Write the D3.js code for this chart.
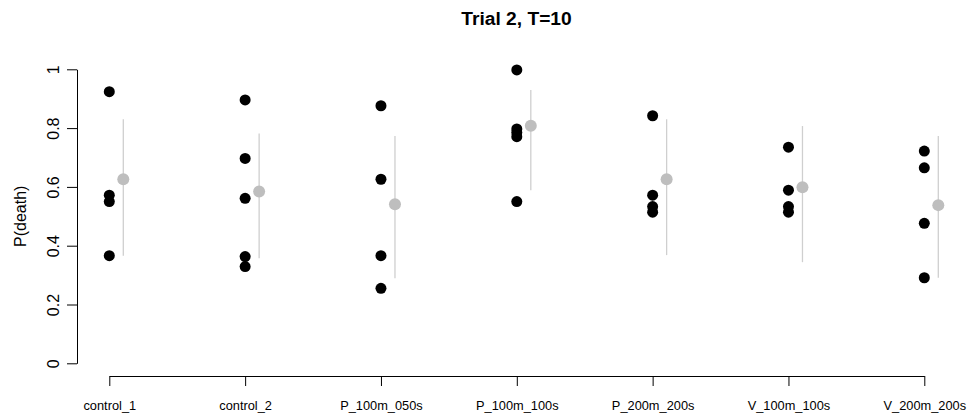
<!DOCTYPE html>
<html>
<head>
<meta charset="utf-8">
<script src="https://cdn.jsdelivr.net/npm/d3@7/dist/d3.min.js"></script>
<style>
  body { margin: 0; background: #fff; }
  svg { display: block; font-family: "Liberation Sans", Arial, sans-serif; }
</style>
</head>
<body>
<svg id="chart" width="970" height="419"></svg>
<script>
// ---- data ----
const categories = ["control_1", "control_2", "P_100m_050s", "P_100m_100s", "P_200m_200s", "V_100m_100s", "V_200m_200s"];
const observed = [
  [0.924, 0.572, 0.55, 0.366],
  [0.896, 0.697, 0.561, 0.363, 0.329],
  [0.876, 0.626, 0.366, 0.255],
  [0.998, 0.797, 0.785, 0.771, 0.55],
  [0.842, 0.572, 0.533, 0.514],
  [0.735, 0.589, 0.533, 0.514],
  [0.722, 0.665, 0.476, 0.291]
];
const estimate = [0.626, 0.584, 0.541, 0.808, 0.626, 0.599, 0.538];
const lower = [0.366, 0.357, 0.289, 0.589, 0.368, 0.344, 0.291];
const upper = [0.83, 0.782, 0.773, 0.93, 0.83, 0.807, 0.773];
const yTicks = [0, 0.2, 0.4, 0.6, 0.8, 1];
const titleText = "Trial 2, T=10";
const yLabel = "P(death)";

// ---- drawing ----
const svg = d3.select("#chart");
const x = d3.scaleLinear().domain([1, 7]).range([109.3, 924.3]);
const y = d3.scaleLinear().domain([0, 1]).range([363.3, 69.3]);
const offset = 14;
const FONT = "Liberation Sans, Arial, sans-serif";

svg.append("text")
  .attr("x", 516.5).attr("y", 25)
  .attr("text-anchor", "middle")
  .attr("font-size", 19.2).attr("font-weight", "bold")
  .text(titleText);

// y axis
const yAxis = svg.append("g").attr("transform", "translate(77,0)")
  .call(d3.axisLeft(y).tickValues(yTicks).tickSize(10).tickSizeOuter(0).tickFormat(d3.format("")));
yAxis.select(".domain").attr("stroke", "#000");
yAxis.selectAll(".tick line").attr("stroke", "#000");
yAxis.selectAll(".tick text")
  .attr("font-size", 16).attr("fill", "#000")
  .attr("font-family", FONT)
  .attr("x", null).attr("dy", null)
  .attr("text-anchor", "middle")
  .attr("transform", "translate(-18.5,0) rotate(-90)");

// x axis
const xAxis = svg.append("g").attr("transform", "translate(0,376)")
  .call(d3.axisBottom(x).tickValues(d3.range(1, 8)).tickSize(10).tickSizeOuter(0)
    .tickFormat(d => categories[d - 1]));
xAxis.select(".domain").attr("stroke", "#000");
xAxis.selectAll(".tick line").attr("stroke", "#000");
xAxis.selectAll(".tick text")
  .attr("font-size", 12.8).attr("fill", "#000")
  .attr("font-family", FONT)
  .attr("y", 34).attr("dy", null);

svg.append("text")
  .attr("transform", `translate(26,${(y(0) + y(1)) / 2}) rotate(-90)`)
  .attr("text-anchor", "middle")
  .attr("font-size", 16)
  .text(yLabel);

// intervals
svg.append("g").selectAll("line")
  .data(categories)
  .join("line")
  .attr("x1", (d, i) => x(i + 1) + offset)
  .attr("x2", (d, i) => x(i + 1) + offset)
  .attr("y1", (d, i) => y(lower[i]))
  .attr("y2", (d, i) => y(upper[i]))
  .attr("stroke", "#cfcfcf")
  .attr("stroke-width", 1.3);

// observed points
const pts = [];
observed.forEach((arr, i) => arr.forEach(v => pts.push({ i, v })));
svg.append("g").selectAll("circle")
  .data(pts)
  .join("circle")
  .attr("cx", d => x(d.i + 1))
  .attr("cy", d => y(d.v))
  .attr("r", 5.5)
  .attr("fill", "#000");

// estimates
svg.append("g").selectAll("circle")
  .data(estimate)
  .join("circle")
  .attr("cx", (d, i) => x(i + 1) + offset)
  .attr("cy", d => y(d))
  .attr("r", 6)
  .attr("fill", "#bebebe");
</script>
</body>
</html>
